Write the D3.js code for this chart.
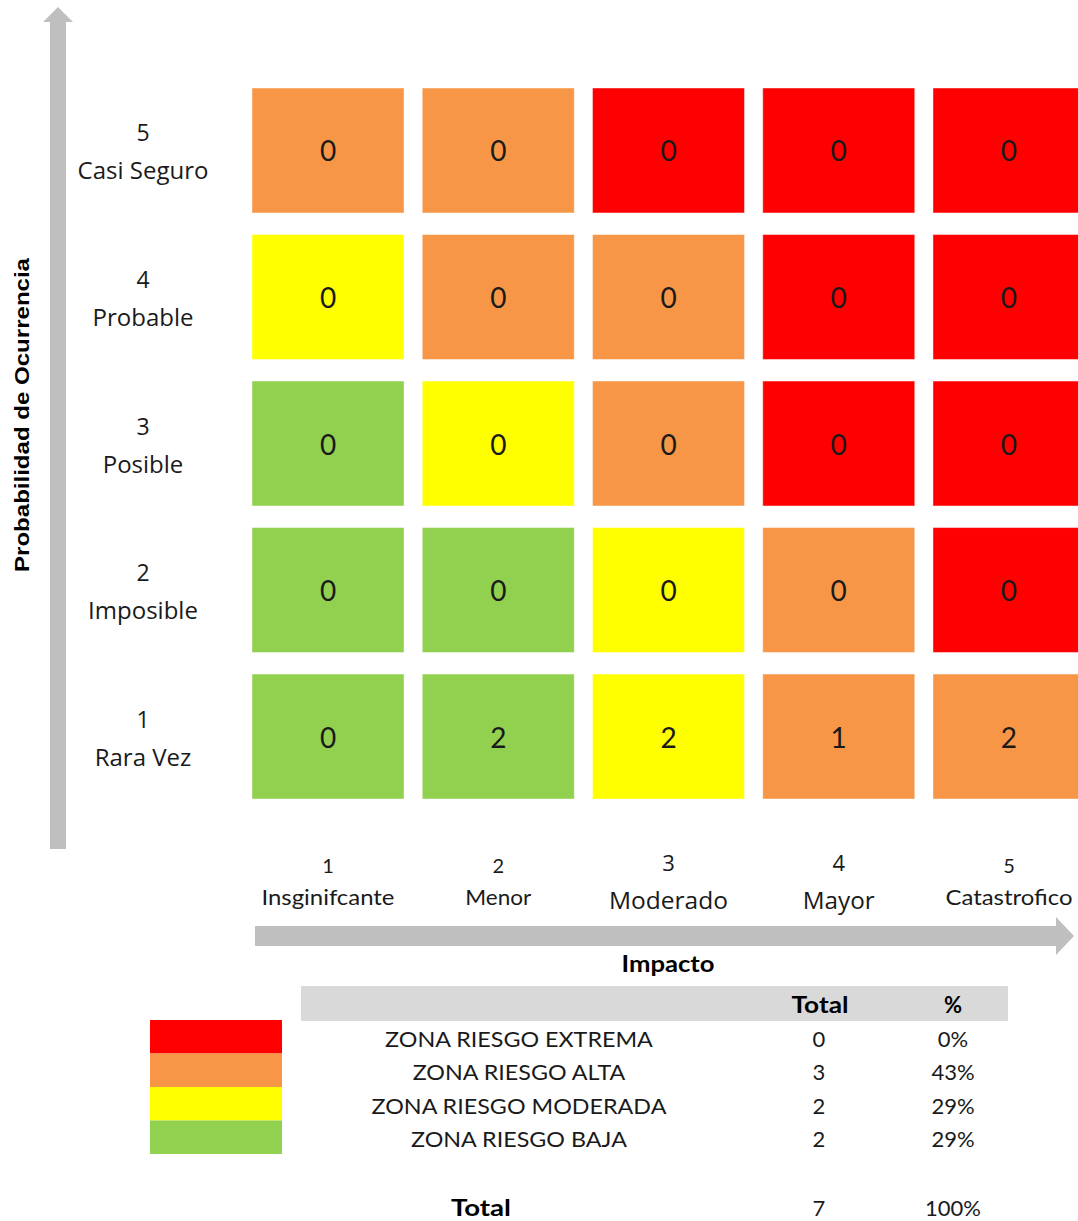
<!DOCTYPE html>
<html>
<head>
<meta charset="utf-8">
<script src="https://cdn.jsdelivr.net/npm/d3@7"></script>
<style>
  html, body { margin: 0; padding: 0; background: #fff; }
  svg { display: block; }
</style>
</head>
<body>
<div id="chart"></div>
<script>
// ---- Data ----
const impactLevels = [1, 2, 3, 4, 5];
const impactLabels = ["Insginifcante", "Menor", "Moderado", "Mayor", "Catastrofico"];
const probLevels = [5, 4, 3, 2, 1];
const probLabels = ["Casi Seguro", "Probable", "Posible", "Imposible", "Rara Vez"];
// counts per probability row (5 -> 1), per impact column (1 -> 5)
const countsP5 = [0, 0, 0, 0, 0];
const countsP4 = [0, 0, 0, 0, 0];
const countsP3 = [0, 0, 0, 0, 0];
const countsP2 = [0, 0, 0, 0, 0];
const countsP1 = [0, 2, 2, 1, 2];
// zone per cell: E extrema, A alta, M moderada, B baja
const zonesP5 = ["A", "A", "E", "E", "E"];
const zonesP4 = ["M", "A", "A", "E", "E"];
const zonesP3 = ["B", "M", "A", "E", "E"];
const zonesP2 = ["B", "B", "M", "A", "E"];
const zonesP1 = ["B", "B", "M", "A", "A"];
const zoneKeys = ["E", "A", "M", "B"];
const zoneColors = ["#ff0000", "#f79646", "#ffff00", "#92d050"];
const zoneNames = ["ZONA RIESGO EXTREMA", "ZONA RIESGO ALTA", "ZONA RIESGO MODERADA", "ZONA RIESGO BAJA"];
const zoneTotals = [0, 3, 2, 2];
const zonePct = ["0%", "43%", "29%", "29%"];
const grandTotal = 7;
const grandPct = "100%";

const countRows = [countsP5, countsP4, countsP3, countsP2, countsP1];
const zoneRows = [zonesP5, zonesP4, zonesP3, zonesP2, zonesP1];

const cells = [];
probLevels.forEach((p, ri) => {
  impactLevels.forEach((im, ci) => {
    cells.push({ p, im, count: countRows[ri][ci], zone: zoneRows[ri][ci] });
  });
});

// ---- Setup ----
const W = 1078, H = 1221;
const svg = d3.select("#chart").append("svg")
  .attr("width", W).attr("height", H)
  .style("background", "#fff");

const color = d3.scaleOrdinal().domain(zoneKeys).range(zoneColors);

const x = d3.scaleBand().domain(impactLevels).range([252, 1085]).paddingInner(0.107).paddingOuter(0);
const y = d3.scaleBand().domain(probLevels).range([88, 799]).paddingInner(0.147).paddingOuter(0);

const gray = "#bfbfbf";
const textCol = "#1a1a1a";

// ---- Arrows ----
svg.append("path")
  .attr("d", "M50,849 L50,22 L43,22 L58,7 L73,22 L66,22 L66,849 Z")
  .attr("fill", gray);
svg.append("path")
  .attr("d", "M255,926 L1056,926 L1056,917 L1074,936 L1056,955 L1056,946 L255,946 Z")
  .attr("fill", gray);

// Y title
svg.append("text")
  .attr("transform", "translate(29,415) rotate(-90)")
  .attr("text-anchor", "middle")
  .attr("font-family", "'Liberation Sans', Arial, sans-serif")
  .attr("font-weight", "bold")
  .attr("font-size", 20)
  .attr("textLength", 314)
  .attr("lengthAdjust", "spacingAndGlyphs")
  .attr("fill", "#000")
  .text("Probabilidad de Ocurrencia");

// ---- Cells ----
const cellG = svg.append("g");
cellG.selectAll("rect.cell").data(cells).join("rect")
  .attr("class", "cell")
  .attr("x", d => x(d.im))
  .attr("y", d => y(d.p))
  .attr("width", x.bandwidth())
  .attr("height", y.bandwidth())
  .attr("fill", d => color(d.zone))
  .attr("stroke", "rgba(255,255,255,0.45)")
  .attr("stroke-width", 1);

cellG.selectAll("text.val").data(cells).join("text")
  .attr("class", "val")
  .attr("x", d => x(d.im) + x.bandwidth() / 2)
  .attr("y", d => y(d.p) + y.bandwidth() / 2 + 11)
  .attr("text-anchor", "middle")
  .attr("font-family", "Lato, 'Open Sans', sans-serif")
  .attr("font-size", 28)
  .attr("fill", textCol)
  .text(d => d.count);

// ---- Row labels ----
const rowG = svg.append("g");
probLevels.forEach((p, i) => {
  const cy = y(p) + y.bandwidth() / 2;
  rowG.append("text")
    .attr("x", 143).attr("y", cy - 9)
    .attr("text-anchor", "middle")
    .attr("font-family", "'Open Sans', sans-serif")
    .attr("font-size", 23)
    .attr("fill", textCol)
    .text(p);
  rowG.append("text")
    .attr("x", 143).attr("y", cy + 29)
    .attr("text-anchor", "middle")
    .attr("font-family", "'Open Sans', sans-serif")
    .attr("font-size", 24)
    .attr("fill", textCol)
    .text(probLabels[i]);
});

// ---- Column labels ----
const colG = svg.append("g");
const colNameLen = [133, 66, 119, 72, 127];
impactLevels.forEach((im, i) => {
  const cx = x(im) + x.bandwidth() / 2;
  const big = (im === 3 || im === 4);
  colG.append("text")
    .attr("x", cx).attr("y", big ? 871 : 873)
    .attr("text-anchor", "middle")
    .attr("font-family", big ? "'Open Sans', sans-serif" : "Lato, sans-serif")
    .attr("font-size", big ? 22 : 20)
    .attr("fill", textCol)
    .text(im);
  colG.append("text")
    .attr("x", cx).attr("y", big ? 909 : 905)
    .attr("text-anchor", "middle")
    .attr("font-family", big ? "'Open Sans', sans-serif" : "Lato, sans-serif")
    .attr("font-size", big ? 24 : 21)
    .attr("textLength", colNameLen[i])
    .attr("lengthAdjust", "spacingAndGlyphs")
    .attr("fill", textCol)
    .text(impactLabels[i]);
});

svg.append("text")
  .attr("x", 668).attr("y", 972)
  .attr("text-anchor", "middle")
  .attr("font-family", "Lato, sans-serif")
  .attr("font-weight", "bold")
  .attr("font-size", 23)
  .attr("textLength", 93)
  .attr("lengthAdjust", "spacingAndGlyphs")
  .attr("fill", "#000")
  .text("Impacto");

// ---- Legend swatches ----
const ly = d3.scaleBand().domain(zoneKeys).range([1020, 1154]);
svg.append("g").selectAll("rect").data(zoneKeys).join("rect")
  .attr("x", 150).attr("y", d => ly(d))
  .attr("width", 132).attr("height", ly.bandwidth())
  .attr("fill", d => color(d));

// ---- Table ----
const tblFont = "Lato, sans-serif";
svg.append("rect")
  .attr("x", 301).attr("y", 986).attr("width", 707).attr("height", 35)
  .attr("fill", "#d9d9d9");
svg.append("text").attr("x", 820).attr("y", 1013).attr("text-anchor", "middle")
  .attr("font-family", tblFont).attr("font-weight", "bold").attr("font-size", 23)
  .attr("textLength", 57).attr("lengthAdjust", "spacingAndGlyphs").attr("fill", "#000")
  .text("Total");
svg.append("text").attr("x", 953).attr("y", 1013).attr("text-anchor", "middle")
  .attr("font-family", tblFont).attr("font-weight", "bold").attr("font-size", 22).attr("fill", "#000")
  .text("%");

const tr = d3.scalePoint().domain(zoneNames).range([1047, 1147]);
const rows = zoneNames.map((n, i) => ({ n, t: zoneTotals[i], pct: zonePct[i] }));
const tg = svg.append("g")
  .attr("font-family", tblFont).attr("font-size", 22).attr("fill", textCol);
tg.selectAll("text.lbl").data(rows).join("text").attr("class", "lbl")
  .attr("x", 519).attr("y", d => tr(d.n)).attr("text-anchor", "middle")
  .attr("transform", d => `translate(519,0) scale(1.06,1) translate(-519,0)`)
  .text(d => d.n);
tg.selectAll("text.tot").data(rows).join("text").attr("class", "tot")
  .attr("x", 819).attr("y", d => tr(d.n)).attr("text-anchor", "middle").text(d => d.t);
tg.selectAll("text.pct").data(rows).join("text").attr("class", "pct")
  .attr("x", 953).attr("y", d => tr(d.n)).attr("text-anchor", "middle").text(d => d.pct);

svg.append("text").attr("x", 481).attr("y", 1216).attr("text-anchor", "middle")
  .attr("font-family", tblFont).attr("font-weight", "bold").attr("font-size", 23)
  .attr("textLength", 60).attr("lengthAdjust", "spacingAndGlyphs").attr("fill", "#000")
  .text("Total");
svg.append("text").attr("x", 819).attr("y", 1216).attr("text-anchor", "middle")
  .attr("font-family", tblFont).attr("font-size", 22).attr("fill", textCol)
  .text(grandTotal);
svg.append("text").attr("x", 953).attr("y", 1216).attr("text-anchor", "middle")
  .attr("font-family", tblFont).attr("font-size", 22).attr("fill", textCol)
  .text(grandPct);
</script>
</body>
</html>
